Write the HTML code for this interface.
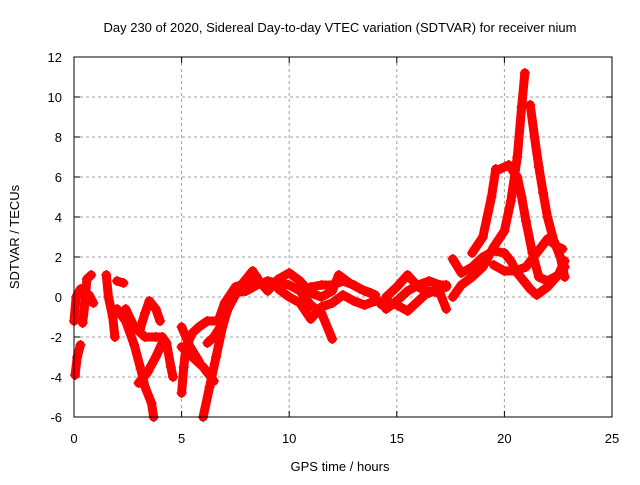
<!DOCTYPE html>
<html><head><meta charset="utf-8"><style>
body{margin:0;background:#fff}
svg text{font-family:"Liberation Sans",sans-serif;font-size:13px;fill:#000}
</style></head><body>
<svg id="c" width="640" height="480">
<text x="340" y="32" text-anchor="middle">Day 230 of 2020, Sidereal Day-to-day VTEC variation (SDTVAR) for receiver nium</text>
<text x="340" y="471" text-anchor="middle">GPS time / hours</text>
<text transform="translate(19,237) rotate(-90)" text-anchor="middle">SDTVAR / TECUs</text>
<g id="grid"></g><g id="marks"></g>
<rect x="74" y="57" width="538" height="360" fill="none" stroke="#000" stroke-width="1"/>
</svg>
<script>
const xTicks=[0,5,10,15,20,25];
const yTicks=[-6,-4,-2,0,2,4,6,8,10,12];
const s1=[[0,-1.2],[0.1,0],[0.3,0.4]];
const s2=[[0.05,-3.9],[0.15,-3],[0.3,-2.4]];
const s3=[[0.5,-0.3],[0.6,0.9],[0.8,1.1]];
const s4=[[0.4,-1.3],[0.5,-0.4],[0.7,0.1],[0.9,-0.3]];
const s5=[[1.5,1.1],[1.6,0],[1.8,-1],[1.9,-2]];
const s6=[[2,0.8],[2.3,0.7]];
const s7=[[2.0,-0.6],[2.4,-1.2],[2.8,-2.4],[3.1,-3.6],[3.3,-4.5],[3.6,-5.3],[3.7,-6]];
const s8=[[2.4,-0.6],[2.8,-1.5],[3.3,-2.0],[3.8,-2.0],[4.1,-2.0],[4.3,-2.3],[4.5,-3.5],[4.6,-4.0]];
const s9=[[3.0,-4.3],[3.4,-3.8],[3.8,-3.0],[4.1,-2.3]];
const s10=[[3.07,-1.6],[3.3,-0.8],[3.5,-0.2],[3.8,-0.6],[4.0,-1.2]];
const s11=[[5.0,-4.8],[5.1,-3.5],[5.2,-2.5],[5.5,-1.8],[5.8,-1.5],[6.2,-1.2],[6.7,-1.2],[7.0,-0.3],[7.5,0.5],[8,0.7],[8.5,1.0]];
const s12=[[5.0,-2.5],[5.5,-3.0],[6.0,-3.5],[6.5,-4.2]];
const s13=[[5.0,-1.5],[5.4,-2.5],[5.8,-3.2]];
const s14=[[6.0,-6],[6.3,-4.5],[6.6,-3],[6.9,-1.5],[7.2,-0.4],[7.5,0.2],[8,0.3],[8.5,0.6],[9,0.8],[9.5,0.7],[10,0.6],[10.5,0.3],[11,-0.4],[11.5,-0.8],[12,-2.1]];
const s15=[[6.2,-2.3],[6.5,-2.0],[6.8,-1.5],[7.2,-0.5],[7.7,0.5],[8.3,1.3],[8.6,0.8],[9,0.3],[9.5,0.9],[10,1.2],[10.5,0.8],[11,0.2],[11.5,0],[12,0.3],[12.3,1.1],[12.8,0.7],[13.3,0.4],[13.8,0.2],[14.3,-0.4]];
const s16=[[9.5,0.4],[10,0],[10.5,-0.3],[11,-1.1],[11.5,-0.5],[12,-0.3],[12.5,0.1],[13,-0.2],[13.5,-0.4],[14,-0.2]];
const s17=[[11,0.5],[11.5,0.6],[12,0.6],[12.5,0.8],[13,0.6],[13.5,0.3],[14,0.1]];
const s18=[[14.5,0],[15,0.5],[15.5,1.1],[16,0.5],[16.5,0.2],[17,0.4],[17.3,0.5]];
const s19=[[14.5,-0.2],[15,-0.4],[15.5,-0.7],[16,-0.2],[16.5,0.3],[17,0.2],[17.3,-0.6]];
const s20=[[14.5,-0.6],[15,-0.2],[15.5,0.3],[16,0.6],[16.5,0.8],[17,0.6],[17.3,0.6]];
const s21=[[17.6,0],[18,0.6],[18.5,1.0],[19,1.5],[19.5,2.5],[20,3.3],[20.3,4.8],[20.6,7],[20.8,9.5],[20.95,11.2]];
const s22=[[17.6,1.9],[18,1.2],[18.5,1.5],[19,2],[19.5,2.3],[20,2.2],[20.3,1.8],[20.6,1.2],[20.9,0.8],[21.2,0.4],[21.5,0.1],[22,0.5],[22.5,1.1],[22.8,1.5]];
const s23=[[18.5,2.2],[19,3],[19.4,5],[19.6,6.4]];
const s24=[[19.5,1.6],[20,1.3],[20.5,1.3],[21,1.5],[21.5,2.2],[22,2.9],[22.5,2.5],[22.7,2.4]];
const s25=[[19.8,6.4],[20.2,6.6],[20.6,6],[20.8,5],[21,3.8],[21.3,2.2],[21.6,1.0],[22,0.8],[22.5,1.1],[22.8,1.8]];
const s26=[[21.2,9.6],[21.4,8],[21.6,6.5],[21.8,5.2],[22.0,4],[22.3,2.8],[22.6,2.0],[22.8,1.0]];
const series=[s1,s2,s3,s4,s5,s6,s7,s8,s9,s10,s11,s12,s13,s14,s15,s16,s17,s18,s19,s20,s21,s22,s23,s24,s25,s26];
const NS='http://www.w3.org/2000/svg';
const X=t=>74+t*538/25, Y=v=>417-(v+6)*20;
const grid=document.getElementById('grid'), marks=document.getElementById('marks');
function mk(tag,attrs,parent){const e=document.createElementNS(NS,tag);for(const k in attrs)e.setAttribute(k,attrs[k]);parent.appendChild(e);return e;}
xTicks.forEach(t=>{
  const x=X(t);
  if(t>0&&t<25){const g=mk('line',{x1:x,x2:x,y1:57,y2:417,stroke:'#a0a0a0','stroke-dasharray':'3,3'},grid);
  
  }
  mk('line',{x1:x,x2:x,y1:417,y2:411,stroke:'#000'},grid);
  mk('line',{x1:x,x2:x,y1:57,y2:63,stroke:'#000'},grid);
  const l=mk('text',{x:x,y:443,'text-anchor':'middle'},grid);l.textContent=t;
  
  
});
yTicks.forEach(v=>{
  const y=Y(v);
  if(v>-6&&v<12){const g=mk('line',{x1:74,x2:612,y1:y,y2:y,stroke:'#a0a0a0','stroke-dasharray':'3,3'},grid);
  
  }
  mk('line',{x1:74,x2:80,y1:y,y2:y,stroke:'#000'},grid);
  mk('line',{x1:606,x2:612,y1:y,y2:y,stroke:'#000'},grid);
  const l=mk('text',{x:62,y:y+5,'text-anchor':'end'},grid);l.textContent=v;
  
  
});
series.forEach((s,i)=>{
  const g=mk('g',{},marks);
  
  
  mk('polyline',{points:s.map(p=>X(p[0])+','+Y(p[1])).join(' '),fill:'none',stroke:'#f00','stroke-width':9,'stroke-linejoin':'round','stroke-linecap':'round'},g);
  s.forEach(p=>{const x=X(p[0]),y=Y(p[1]);
    mk('path',{d:`M${x-5},${y}H${x+5}M${x},${y-5}V${y+5}`,stroke:'#f00','stroke-width':1.5},g);});
});
</script>
</body></html>
